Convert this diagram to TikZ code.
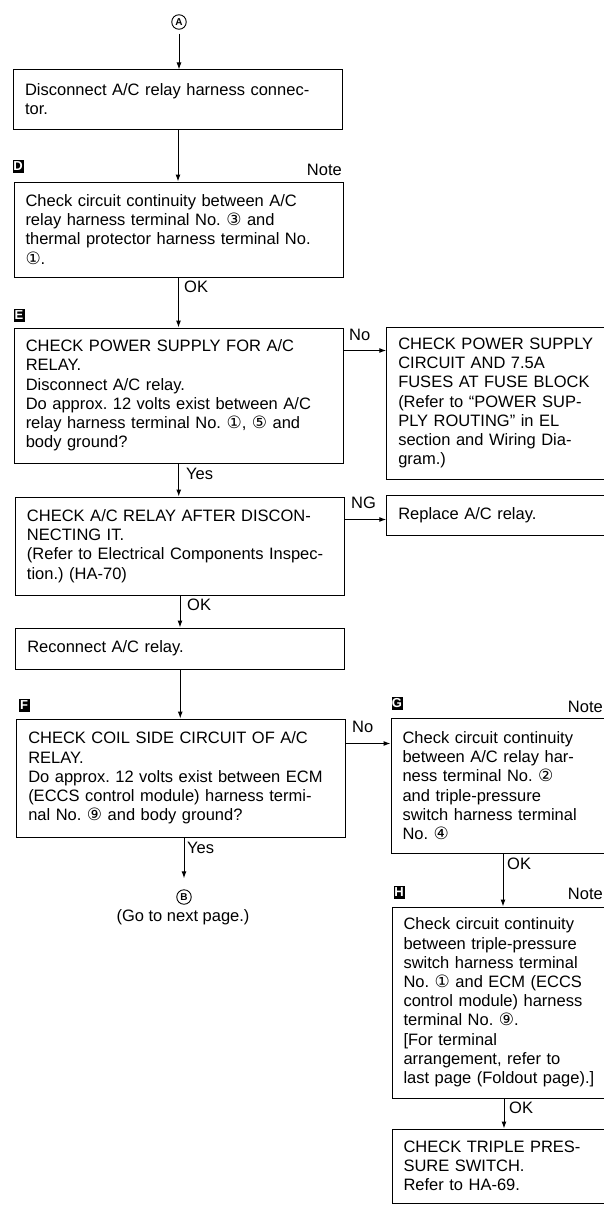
\documentclass[tikz,border=0pt]{standalone}
\usepackage{fontspec}
\setmainfont{Liberation Sans}
\newfontfamily\circfont{DejaVu Sans}
\usetikzlibrary{positioning,arrows.meta}
\newcommand{\cnum}[1]{{\circfont\fontsize{17}{17}\selectfont #1}}
\frenchspacing

\begin{document}
\begin{tikzpicture}[x=1pt, y=-1pt,
      every node/.style={font=\fontsize{16.5}{19.2}\selectfont, inner sep=0pt},
      box/.style={draw, line width=1pt, align=left, inner xsep=11.5pt, inner ysep=0pt},
      main/.style={box, text width=306pt},
      side/.style={box, text width=215pt},
      tag/.style={fill=black, text=white, font=\bfseries\fontsize{13}{13}\selectfont,
                  minimum width=11pt, minimum height=13pt},
      conn/.style={draw, circle, line width=0.9pt, inner sep=1.6pt, minimum size=13pt,
                   font=\bfseries\fontsize{10}{10}\selectfont},
      lbl/.style={anchor=west},
      arrow/.style={-{Latex[length=7pt,width=5pt]}, line width=1pt},
  ]
    \clip (0,0) rectangle (604,1207);

    \node[conn] (ptA) at (179,22) {A};
    \node[main, minimum height=59pt] (disc) at (178,99.5)
      {Disconnect A/C relay harness connec-\\tor.};
    \node[tag] (tagD) at (18,166) {D};
    \node[anchor=east] (noteD) at (342,170) {Note};
    \node[main, minimum height=95pt] (chkD) at (178.5,229.5)
      {Check circuit continuity between A/C\\relay harness terminal No. \cnum{③} and\\thermal protector harness terminal No.\\\cnum{①}.};
    \node[lbl] (okD) at (184,287) {OK};
    \node[tag] (tagE) at (19,315) {E};
    \node[main, minimum height=135pt] (chkE) at (178.75,395.5)
      {CHECK POWER SUPPLY FOR A/C\\RELAY.\\Disconnect A/C relay.\\Do approx. 12 volts exist between A/C\\relay harness terminal No. \cnum{①}, \cnum{⑤} and\\body ground?};
    \node[lbl] (noE) at (349,335) {No};
    \node[side, minimum height=152pt] (psup) at (505.75,403)
      {CHECK POWER SUPPLY\\CIRCUIT AND 7.5A\\FUSES AT FUSE BLOCK\\(Refer to ``POWER SUP-\\PLY ROUTING'' in EL\\section and Wiring Dia-\\gram.)};
    \node[lbl] (yesE) at (186,474) {Yes};
    \node[main, minimum height=98pt] (chkrly) at (180,546)
      {CHECK A/C RELAY AFTER DISCON-\\NECTING IT.\\(Refer to Electrical Components Inspec-\\tion.) (HA-70)};
    \node[lbl] (ngR) at (351,503) {NG};
    \node[side, minimum height=40pt] (repl) at (505.75,515) {Replace A/C relay.};
    \node[lbl] (okR) at (187,605) {OK};
    \node[main, minimum height=41pt] (recon) at (180.25,648.5) {Reconnect A/C relay.};
    \node[tag] (tagF) at (24,705) {F};
    \node[main, minimum height=118pt] (chkF) at (181.25,778)
      {CHECK COIL SIDE CIRCUIT OF A/C\\RELAY.\\Do approx. 12 volts exist between ECM\\(ECCS control module) harness termi-\\nal No. \cnum{⑨} and body ground?};
    \node[lbl] (noF) at (352,727) {No};
    \node[tag] (tagG) at (397,703) {G};
    \node[anchor=east] (noteG) at (603,707) {Note};
    \node[side, minimum height=135pt] (chkG) at (510,785.5)
      {Check circuit continuity\\between A/C relay har-\\ness terminal No. \cnum{②}\\and triple-pressure\\switch harness terminal\\No. \cnum{④}};
    \node[lbl] (yesF) at (187,848) {Yes};
    \node[conn] (ptB) at (184,897) {B};
    \node (goto) at (183,917) {(Go to next page.)};
    \node[lbl] (okG) at (507,864) {OK};
    \node[tag] (tagH) at (399,892) {H};
    \node[anchor=east] (noteH) at (603,894) {Note};
    \node[side, minimum height=191pt] (chkH) at (511,1002.5)
      {Check circuit continuity\\between triple-pressure\\switch harness terminal\\No. \cnum{①} and ECM (ECCS\\control module) harness\\terminal No. \cnum{⑨}.\\{[}For terminal\\arrangement, refer to\\last page (Foldout page).{]}};
    \node[lbl] (okH) at (509,1108) {OK};
    \node[side, minimum height=74pt] (trip) at (511,1166)
      {CHECK TRIPLE PRES-\\SURE SWITCH.\\Refer to HA-69.};

    \coordinate[below=23pt of chkE.north east] (brE);
    \coordinate[below=23pt of chkrly.north east] (brR);
    \coordinate[below=25pt of chkF.north east] (brF);
    \coordinate (colG) at (503,0);
    \coordinate (colH) at (504,0);

    \draw[arrow, shorten <=4pt] (ptA) -- (ptA |- disc.north);
    \draw[arrow] (disc.south) -- (disc.south |- chkD.north);
    \draw[arrow] (chkD.south) -- (chkD.south |- chkE.north);
    \draw[arrow] (brE) -- (brE -| psup.west);
    \draw[arrow] (chkE.south) -- (chkE.south |- chkrly.north);
    \draw[arrow] (brR) -- (brR -| repl.west);
    \draw[arrow] (chkrly.south) -- (chkrly.south |- recon.north);
    \draw[arrow] (recon.south) -- (recon.south |- chkF.north);
    \draw[arrow] (brF) -- (brF -| chkG.west);
    \draw[arrow, shorten >=11pt] (ptB |- chkF.south) -- (ptB);
    \draw[arrow] (chkG.south -| colG) -- (chkH.north -| colG);
    \draw[arrow] (chkH.south -| colH) -- (trip.north -| colH);
  \end{tikzpicture}
\end{document}
